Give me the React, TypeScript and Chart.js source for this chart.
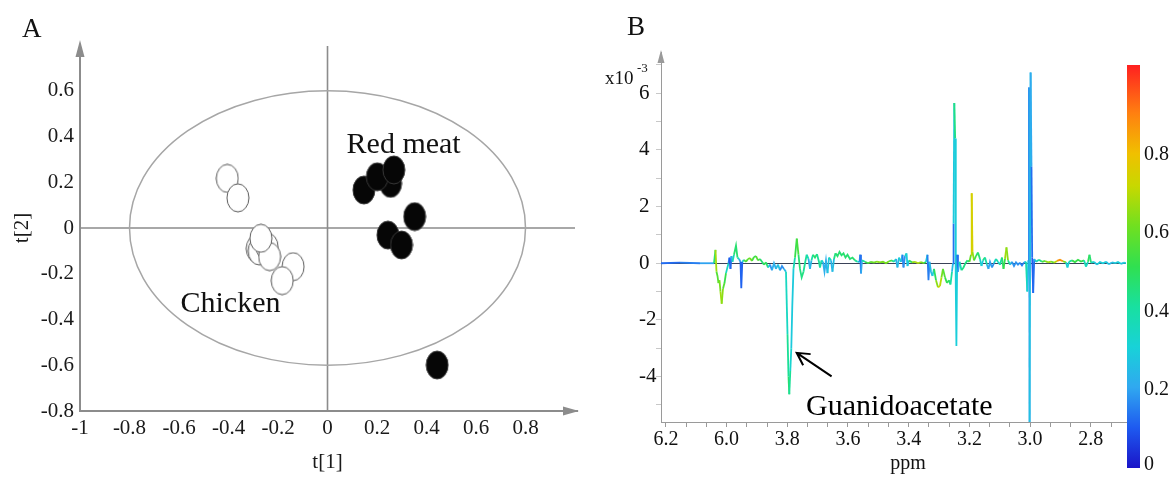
import React, { useEffect, useRef } from 'react';
import { Chart, registerables } from 'chart.js';

Chart.register(...registerables);

const SERIF = "'Liberation Serif', 'Times New Roman', Times, serif";

// ---------------- Panel A : PCA scores ----------------
const CHICKEN_T1 = [-0.405, -0.362, -0.284, -0.276, -0.244, -0.234, -0.269, -0.139, -0.183];
const CHICKEN_T2 = [0.217, 0.132, -0.09, -0.1, -0.082, -0.125, -0.045, -0.169, -0.23];
const RED_T1 = [0.147, 0.255, 0.201, 0.268, 0.352, 0.244, 0.299, 0.443];
const RED_T2 = [0.166, 0.195, 0.224, 0.254, 0.05, -0.031, -0.074, -0.599];
const A_X_TICKS = [-1, -0.8, -0.6, -0.4, -0.2, 0, 0.2, 0.4, 0.6, 0.8];
const A_X_LABELS = ['-1', '-0.8', '-0.6', '-0.4', '-0.2', '0', '0.2', '0.4', '0.6', '0.8'];
const A_Y_TICKS = [-0.8, -0.6, -0.4, -0.2, 0, 0.2, 0.4, 0.6];
const A_Y_LABELS = ['-0.8', '-0.6', '-0.4', '-0.2', '0', '0.2', '0.4', '0.6'];
const ELLIPSE_RADII = [0.8, 0.6];

// ---------------- Panel B : loading spectrum ----------------
const PPM = [
  4.2161, 4.1535, 4.0876, 4.0415, 4.0366, 4.0333, 4.03, 4.0267, 4.0234, 4.0201,
  4.0161, 4.0119, 4.0069, 4.002, 3.9937, 3.9904, 3.9872, 3.9839, 3.9806, 3.9756,
  3.969, 3.9641, 3.9591, 3.9542, 3.9516, 3.9483, 3.9427, 3.9361, 3.9295, 3.9229,
  3.9163, 3.9097, 3.9031, 3.8965, 3.89, 3.8834, 3.8768, 3.8702, 3.8636, 3.857,
  3.8504, 3.8438, 3.8372, 3.8306, 3.8241, 3.8175, 3.8109, 3.8043, 3.7993, 3.796,
  3.7934, 3.7901, 3.7868, 3.7835, 3.7796, 3.7746, 3.7687, 3.7631, 3.7582, 3.7526,
  3.7466, 3.7417, 3.7361, 3.7301, 3.7252, 3.7203, 3.7153, 3.7087, 3.7021, 3.6956,
  3.6923, 3.6873, 3.6824, 3.6774, 3.6725, 3.6675, 3.6626, 3.656, 3.6511, 3.6461,
  3.6412, 3.6346, 3.628, 3.6214, 3.6148, 3.6082, 3.6016, 3.5934, 3.5852, 3.5769,
  3.5687, 3.5621, 3.5595, 3.5572, 3.5539, 3.544, 3.5341, 3.5242, 3.5143, 3.5044,
  3.4946, 3.4847, 3.4748, 3.4649, 3.455, 3.4484, 3.4418, 3.4369, 3.432, 3.4254,
  3.4204, 3.4171, 3.4122, 3.4072, 3.404, 3.399, 3.3891, 3.3792, 3.3694, 3.3595,
  3.3496, 3.343, 3.3381, 3.3348, 3.3315, 3.3265, 3.3216, 3.3166, 3.31, 3.3035,
  3.2969, 3.2919, 3.287, 3.2804, 3.2738, 3.2672, 3.2623, 3.2573, 3.254, 3.2521,
  3.2498, 3.2468, 3.2448, 3.2428, 3.2402, 3.2376, 3.2326, 3.226, 3.2194, 3.2129,
  3.2063, 3.1997, 3.1947, 3.1924, 3.1898, 3.1848, 3.1783, 3.1717, 3.1651, 3.1601,
  3.1552, 3.1486, 3.142, 3.1371, 3.1321, 3.1255, 3.1189, 3.1124, 3.1058, 3.0992,
  3.0926, 3.0876, 3.0827, 3.0778, 3.0728, 3.0662, 3.0596, 3.053, 3.0465, 3.0399,
  3.0333, 3.0267, 3.0201, 3.0135, 3.0092, 3.0059, 3.0036, 3.0016, 2.9983, 2.9954,
  2.9931, 2.9898, 2.9865, 2.9806, 2.9707, 2.9608, 2.9509, 2.941, 2.9311, 2.9213,
  2.9114, 2.9015, 2.8916, 2.8817, 2.8768, 2.8718, 2.8619, 2.8521, 2.8422, 2.8323,
  2.8224, 2.8158, 2.8092, 2.8043, 2.7993, 2.7895, 2.7796, 2.7697, 2.7598, 2.7499,
  2.74, 2.7302, 2.7203, 2.7104, 2.7005, 2.6906, 2.684,
];
const LOADING = [
  0, 0.02, 0, 0, 0.47, -0.3, -0.45, -0.7, -0.6, -1.0,
  -1.43, -0.9, -0.7, -0.35, 0, 0.2, -0.2, 0.25, 0.05, 0.3,
  0.62, 0.2, 0.15, 0.05, -0.88, 0.05, 0.12, 0.05, 0.15, 0.18,
  0.08, 0.22, 0.25, 0.1, 0.15, 0.05, -0.05, 0.03, -0.15, -0.05,
  -0.25, 0, -0.2, -0.05, -0.25, -0.1, -0.2, -0.3, -2.5, -4.0,
  -4.62, -3.8, -3.0, -1.5, -0.2, 0.2, 0.87, 0.3, -0.2, -0.5,
  -0.3, 0, 0.3, 0.15, -0.2, 0.1, 0.3, 0.2, 0.32, 0.05,
  -0.15, 0.1, 0.05, -0.3, 0.1, -0.35, 0.2, 0.1, -0.3, 0.15,
  0.35, 0.25, 0.4, 0.28, 0.35, 0.2, 0.3, 0.15, 0.2, 0.1,
  0.05, 0.05, 0.3, -0.36, 0.1, 0.05, 0, 0.05, 0.02, 0.06,
  0.03, 0.05, 0, 0.07, 0.1, 0.05, 0.15, -0.15, 0.2, 0.05,
  0.3, -0.15, 0.25, 0.35, -0.1, 0.1, 0.03, 0.05, 0, 0.04,
  0, 0.05, 0.3, -0.6, 0.05, -0.3, -0.45, -0.2, -0.6, -0.85,
  -0.8, -0.5, -0.2, -0.5, -0.7, -0.6, -0.75, -0.3, 0, 1.4,
  5.65, 4.4, -0.86, -2.92, 0.3, -0.3, 0.05, -0.25, -0.15, 0,
  0.1, 0.05, 0.3, 2.47, 0.4, 0.1, 0.25, 0.38, 0.15, -0.1,
  0.1, 0.2, -0.05, -0.2, 0.05, -0.15, 0, 0.15, 0.05, -0.05,
  0.2, -0.2, 0.15, 0.56, 0.1, -0.05, 0.05, -0.1, 0.03, -0.05,
  0.02, -0.08, 0.03, 0.05, -1.0, 0.1, 6.2, -5.8, 6.73, 3.4,
  0.2, -1.05, 0.15, 0.05, 0.12, 0.05, 0.08, 0.03, 0.06, 0.02,
  0.08, 0.12, 0.07, 0.03, -0.15, 0.05, 0.1, 0.04, 0.12, 0.06,
  0.1, -0.12, 0.05, 0.3, 0.02, 0.05, -0.05, 0.04, 0, 0.05,
  -0.04, 0.03, 0, 0.04, -0.02, 0.02, 0,
];
const CORR = [
  0.15, 0.1, 0.2, 0.2, 0.75, 0.6, 0.55, 0.6, 0.6, 0.65,
  0.7, 0.6, 0.55, 0.5, 0.2, 0.1, 0.1, 0.15, 0.3, 0.45,
  0.5, 0.45, 0.3, 0.15, 0.08, 0.15, 0.5, 0.6, 0.55, 0.65,
  0.6, 0.5, 0.55, 0.6, 0.5, 0.45, 0.5, 0.55, 0.4, 0.2,
  0.15, 0.3, 0.15, 0.35, 0.2, 0.15, 0.2, 0.3, 0.4, 0.45,
  0.5, 0.35, 0.3, 0.28, 0.3, 0.45, 0.6, 0.5, 0.45, 0.45,
  0.45, 0.4, 0.45, 0.3, 0.15, 0.35, 0.45, 0.5, 0.45, 0.4,
  0.45, 0.35, 0.3, 0.15, 0.3, 0.15, 0.4, 0.35, 0.12, 0.4,
  0.5, 0.45, 0.5, 0.45, 0.5, 0.45, 0.5, 0.45, 0.5, 0.45,
  0.4, 0.2, 0.15, 0.12, 0.3, 0.5, 0.55, 0.6, 0.6, 0.65,
  0.65, 0.6, 0.65, 0.6, 0.5, 0.4, 0.3, 0.15, 0.35, 0.3,
  0.2, 0.1, 0.25, 0.45, 0.15, 0.4, 0.6, 0.7, 0.7, 0.65,
  0.6, 0.4, 0.2, 0.1, 0.2, 0.3, 0.2, 0.4, 0.6, 0.7,
  0.75, 0.65, 0.6, 0.55, 0.5, 0.5, 0.45, 0.35, 0.15, 0.12,
  0.45, 0.45, 0.15, 0.45, 0.15, 0.12, 0.3, 0.45, 0.45, 0.45,
  0.45, 0.5, 0.7, 0.78, 0.72, 0.6, 0.5, 0.5, 0.45, 0.2,
  0.4, 0.5, 0.3, 0.15, 0.25, 0.15, 0.2, 0.45, 0.35, 0.3,
  0.5, 0.45, 0.6, 0.75, 0.55, 0.3, 0.2, 0.15, 0.2, 0.15,
  0.2, 0.1, 0.2, 0.3, 0.45, 0.15, 0.12, 0.25, 0.28, 0.14,
  0.12, 0.1, 0.15, 0.35, 0.4, 0.5, 0.6, 0.7, 0.65, 0.55,
  0.85, 0.9, 0.85, 0.4, 0.25, 0.35, 0.5, 0.55, 0.5, 0.55,
  0.5, 0.25, 0.45, 0.55, 0.4, 0.3, 0.25, 0.35, 0.25, 0.35,
  0.2, 0.3, 0.25, 0.35, 0.25, 0.3, 0.3,
];
const B_X_TICKS = [4.2, 4.0, 3.8, 3.6, 3.4, 3.2, 3.0, 2.8];
const B_X_LABELS = ['6.2', '6.0', '3.8', '3.6', '3.4', '3.2', '3.0', '2.8'];
const B_Y_TICKS = [-4, -2, 0, 2, 4, 6];
const B_Y_LABELS = ['-4', '-2', '0', '2', '4', '6'];
const CB_TICKS = [0, 0.2, 0.4, 0.6, 0.8];
const CB_LABELS = ['0', '0.2', '0.4', '0.6', '0.8'];
const CB_MAX = 1.03;

// jet-like colour map (style)
const JET: [number, string][] = [
  [0, '#1a14c8'], [0.1, '#1e5af0'], [0.2, '#30a8f0'], [0.3, '#18d2d8'],
  [0.4, '#18e0a0'], [0.5, '#30e050'], [0.6, '#70e020'], [0.7, '#c8d800'],
  [0.78, '#f0c000'], [0.88, '#ff8010'], [1, '#ff2020'],
];
function hexRgb(h: string) {
  return [parseInt(h.slice(1, 3), 16), parseInt(h.slice(3, 5), 16), parseInt(h.slice(5, 7), 16)];
}
function jet(t: number) {
  const v = Math.max(0, Math.min(1, t));
  for (let i = 1; i < JET.length; i++) {
    if (v <= JET[i][0]) {
      const [t0, c0] = JET[i - 1];
      const [t1, c1] = JET[i];
      const f = (v - t0) / (t1 - t0);
      const a = hexRgb(c0), b = hexRgb(c1);
      return `rgb(${Math.round(a[0] + (b[0] - a[0]) * f)},${Math.round(a[1] + (b[1] - a[1]) * f)},${Math.round(a[2] + (b[2] - a[2]) * f)})`;
    }
  }
  return JET[JET.length - 1][1];
}

function makeMarker(fill: string, stroke: string) {
  const c = document.createElement('canvas');
  c.width = 24;
  c.height = 30;
  const g = c.getContext('2d')!;
  g.beginPath();
  g.ellipse(12, 15, 11, 14, 0, 0, Math.PI * 2);
  g.fillStyle = fill;
  g.fill();
  g.lineWidth = 1;
  g.strokeStyle = stroke;
  g.stroke();
  return c;
}

const pcaDecor = {
  id: 'pcaDecor',
  beforeDatasetsDraw(chart: any) {
    const { ctx, chartArea, scales } = chart;
    const x = scales.x, y = scales.y;
    const x0 = x.getPixelForValue(0), y0 = y.getPixelForValue(0);
    ctx.save();
    ctx.strokeStyle = '#8c8c8c';
    ctx.lineWidth = 1.6;
    ctx.beginPath();
    ctx.moveTo(x0, chartArea.top - 2);
    ctx.lineTo(x0, chartArea.bottom);
    ctx.moveTo(chartArea.left, y0);
    ctx.lineTo(chartArea.right - 2, y0);
    ctx.stroke();
    const rx = x.getPixelForValue(ELLIPSE_RADII[0]) - x0;
    const ry = y0 - y.getPixelForValue(ELLIPSE_RADII[1]);
    ctx.strokeStyle = '#a6a6a6';
    ctx.lineWidth = 1.5;
    ctx.beginPath();
    ctx.ellipse(x0, y0, rx, ry, 0, 0, Math.PI * 2);
    ctx.stroke();
    ctx.restore();
  },
  afterDraw(chart: any) {
    const { ctx, chartArea, scales } = chart;
    const x = scales.x, y = scales.y;
    ctx.save();
    ctx.fillStyle = '#8c8c8c';
    // y arrow
    ctx.beginPath();
    ctx.moveTo(chartArea.left, chartArea.top - 8);
    ctx.lineTo(chartArea.left - 4.5, chartArea.top + 9);
    ctx.lineTo(chartArea.left + 4.5, chartArea.top + 9);
    ctx.closePath();
    ctx.fill();
    // x arrow
    ctx.beginPath();
    ctx.moveTo(chartArea.right + 2, chartArea.bottom);
    ctx.lineTo(chartArea.right - 14, chartArea.bottom - 4.5);
    ctx.lineTo(chartArea.right - 14, chartArea.bottom + 4.5);
    ctx.closePath();
    ctx.fill();

    ctx.fillStyle = '#111';
    ctx.textBaseline = 'alphabetic';
    ctx.textAlign = 'left';
    ctx.font = `27px ${SERIF}`;
    ctx.fillText('A', 22, 37);

    ctx.font = `30px ${SERIF}`;
    ctx.fillText('Red meat', x.getPixelForValue(0.077), y.getPixelForValue(0.328));
    ctx.fillText('Chicken', x.getPixelForValue(-0.594), y.getPixelForValue(-0.366));

    ctx.font = `21px ${SERIF}`;
    ctx.textAlign = 'center';
    ctx.textBaseline = 'middle';
    ctx.fillStyle = '#1a1a1a';
    ctx.fillText('t[1]', x.getPixelForValue(0), 462);
    ctx.translate(22, y.getPixelForValue(0));
    ctx.rotate(-Math.PI / 2);
    ctx.fillText('t[2]', 0, 0);
    ctx.restore();
  },
};

const spectrumDecor = {
  id: 'spectrumDecor',
  beforeDatasetsDraw(chart: any) {
    const { ctx, chartArea, scales } = chart;
    const y0 = scales.y.getPixelForValue(0);
    ctx.save();
    ctx.strokeStyle = '#3a4258';
    ctx.lineWidth = 1;
    ctx.beginPath();
    ctx.moveTo(chartArea.left, Math.round(y0) + 0.5);
    ctx.lineTo(chartArea.right, Math.round(y0) + 0.5);
    ctx.stroke();
    ctx.restore();
  },
  afterDraw(chart: any) {
    const { ctx, chartArea, scales } = chart;
    const x = scales.x, y = scales.y;
    ctx.save();
    // y axis arrow
    ctx.fillStyle = '#9a9a9a';
    ctx.beginPath();
    ctx.moveTo(chartArea.left, chartArea.top - 2);
    ctx.lineTo(chartArea.left - 3.5, chartArea.top + 11);
    ctx.lineTo(chartArea.left + 3.5, chartArea.top + 11);
    ctx.closePath();
    ctx.fill();

    // colour bar
    const cbL = chartArea.right + 1, cbW = 13, cbTop = 65, cbBot = 468;
    const grad = ctx.createLinearGradient(0, cbBot, 0, cbTop);
    JET.forEach(([t, c]) => grad.addColorStop(t, c));
    ctx.fillStyle = grad;
    ctx.fillRect(cbL, cbTop, cbW, cbBot - cbTop);
    ctx.fillStyle = '#111';
    ctx.font = `20px ${SERIF}`;
    ctx.textAlign = 'left';
    ctx.textBaseline = 'middle';
    CB_TICKS.forEach((v, i) => {
      const py = cbBot - (v / CB_MAX) * (cbBot - cbTop);
      ctx.fillText(CB_LABELS[i], cbL + cbW + 4, Math.min(py, cbBot - 3));
    });

    // panel letter & exponent
    ctx.textBaseline = 'alphabetic';
    ctx.font = `27px ${SERIF}`;
    ctx.fillText('B', 27, 35);
    ctx.font = `19px ${SERIF}`;
    ctx.fillText('x10', 5, 84);
    ctx.font = `13px ${SERIF}`;
    ctx.fillText('-3', 37, 72);

    // axis title
    ctx.font = `20px ${SERIF}`;
    ctx.textAlign = 'center';
    ctx.textBaseline = 'middle';
    ctx.fillText('ppm', 308, 464);

    // annotation arrow
    const tipX = x.getPixelForValue(3.769), tipY = y.getPixelForValue(-3.16);
    const tailX = x.getPixelForValue(3.654), tailY = y.getPixelForValue(-3.99);
    const ang = Math.atan2(tailY - tipY, tailX - tipX);
    ctx.strokeStyle = '#000';
    ctx.lineWidth = 2;
    ctx.beginPath();
    ctx.moveTo(tailX, tailY);
    ctx.lineTo(tipX, tipY);
    ctx.moveTo(tipX + 14 * Math.cos(ang - 0.5), tipY + 14 * Math.sin(ang - 0.5));
    ctx.lineTo(tipX, tipY);
    ctx.lineTo(tipX + 14 * Math.cos(ang + 0.5), tipY + 14 * Math.sin(ang + 0.5));
    ctx.stroke();

    ctx.fillStyle = '#000';
    ctx.font = `30px ${SERIF}`;
    ctx.textAlign = 'left';
    ctx.textBaseline = 'alphabetic';
    ctx.fillText('Guanidoacetate', x.getPixelForValue(3.738), y.getPixelForValue(-5.36));
    ctx.restore();
  },
};

export default function App() {
  const refA = useRef<HTMLCanvasElement>(null);
  const refB = useRef<HTMLCanvasElement>(null);

  useEffect(() => {
    const openMarker = makeMarker('#ffffff', '#5a5a5a');
    const filledMarker = makeMarker('#060606', '#3a3a3a');
    const tickFontA = { family: SERIF, size: 21 };

    const chartA = new Chart(refA.current!, {
      type: 'scatter',
      data: {
        datasets: [
          {
            label: 'Chicken',
            data: CHICKEN_T1.map((v, i) => ({ x: v, y: CHICKEN_T2[i] })),
            pointStyle: openMarker as any,
            pointRadius: 12,
          },
          {
            label: 'Red meat',
            data: RED_T1.map((v, i) => ({ x: v, y: RED_T2[i] })),
            pointStyle: filledMarker as any,
            pointRadius: 12,
          },
        ],
      },
      options: {
        responsive: false,
        animation: false,
        events: [],
        layout: { padding: { top: 48, right: 23, left: 0, bottom: 0 } },
        plugins: { legend: { display: false }, tooltip: { enabled: false } },
        scales: {
          x: {
            type: 'linear',
            min: -1,
            max: 1.008,
            afterFit: (s: any) => { s.height = 66; },
            afterBuildTicks: (s: any) => { s.ticks = A_X_TICKS.map((v) => ({ value: v })); },
            grid: { display: false, drawTicks: false },
            border: { display: true, color: '#8c8c8c', width: 2 },
            ticks: {
              autoSkip: false,
              maxRotation: 0,
              padding: 5,
              color: '#1a1a1a',
              font: tickFontA,
              callback: (v: any) => {
                const i = A_X_TICKS.findIndex((t) => Math.abs(t - v) < 1e-6);
                return i >= 0 ? A_X_LABELS[i] : '';
              },
            },
          },
          y: {
            type: 'linear',
            min: -0.8,
            max: 0.787,
            afterFit: (s: any) => { s.width = 80; },
            afterBuildTicks: (s: any) => { s.ticks = A_Y_TICKS.map((v) => ({ value: v })); },
            grid: { display: false, drawTicks: false },
            border: { display: true, color: '#8c8c8c', width: 2 },
            ticks: {
              autoSkip: false,
              padding: 6,
              color: '#1a1a1a',
              font: tickFontA,
              callback: (v: any) => {
                const i = A_Y_TICKS.findIndex((t) => Math.abs(t - v) < 1e-6);
                return i >= 0 ? A_Y_LABELS[i] : '';
              },
            },
          },
        },
      },
      plugins: [pcaDecor],
    });

    const chartB = new Chart(refB.current!, {
      type: 'scatter',
      data: {
        datasets: [
          {
            label: 'loading',
            data: PPM.map((v, i) => ({ x: v, y: LOADING[i] })),
            showLine: true,
            pointRadius: 0,
            borderWidth: 1.8,
            borderColor: '#30c0e0',
            fill: false,
            segment: {
              borderColor: (c: any) =>
                jet(((CORR[c.p0DataIndex] + CORR[c.p1DataIndex]) / 2) / CB_MAX),
            },
          } as any,
        ],
      },
      options: {
        responsive: false,
        animation: false,
        events: [],
        layout: { padding: { top: 52, right: 50, left: 39, bottom: 0 } },
        plugins: { legend: { display: false }, tooltip: { enabled: false } },
        scales: {
          x: {
            type: 'linear',
            reverse: true,
            min: 2.684,
            max: 4.2161,
            afterFit: (s: any) => { s.height = 55; },
            afterBuildTicks: (s: any) => {
              const step = (B_X_TICKS[0] - B_X_TICKS[1]) / 3;
              const t = [];
              for (let k = 0; B_X_TICKS[0] - k * step > s.min; k++) t.push({ value: B_X_TICKS[0] - k * step });
              s.ticks = t;
            },
            grid: { display: true, drawOnChartArea: false, drawTicks: true, tickLength: 5, color: '#9a9a9a' },
            border: { display: true, color: '#9a9a9a', width: 1 },
            ticks: {
              autoSkip: false,
              maxRotation: 0,
              minRotation: 0,
              padding: 1,
              color: '#111',
              font: { family: SERIF, size: 20 },
              callback: (v: any) => {
                const i = B_X_TICKS.findIndex((t) => Math.abs(t - v) < 1e-6);
                return i >= 0 ? B_X_LABELS[i] : '';
              },
            },
          },
          y: {
            type: 'linear',
            min: -5.6,
            max: 7.45,
            afterFit: (s: any) => { s.width = 22; },
            afterBuildTicks: (s: any) => {
              const t = [];
              for (let v = Math.ceil(s.min); v <= Math.floor(s.max); v++) t.push({ value: v });
              s.ticks = t;
            },
            grid: { display: true, drawOnChartArea: false, drawTicks: true, tickLength: 5, color: '#c8c8c8' },
            border: { display: true, color: '#9a9a9a', width: 1 },
            ticks: {
              autoSkip: false,
              crossAlign: 'far',
              color: '#111',
              font: { family: SERIF, size: 21 },
              callback: (v: any) => {
                const i = B_Y_TICKS.findIndex((t) => Math.abs(t - v) < 1e-6);
                return i >= 0 ? B_Y_LABELS[i] : '';
              },
            },
          },
        },
      },
      plugins: [spectrumDecor],
    });

    return () => {
      chartA.destroy();
      chartB.destroy();
    };
  }, []);

  return (
    <div style={{ position: 'absolute', left: 0, top: 0, width: 1176, height: 477, background: '#fff', overflow: 'hidden' }}>
      <canvas ref={refA} width={600} height={477} style={{ position: 'absolute', left: 0, top: 0, display: 'block' }} />
      <canvas ref={refB} width={576} height={477} style={{ position: 'absolute', left: 600, top: 0, display: 'block' }} />
    </div>
  );
}
